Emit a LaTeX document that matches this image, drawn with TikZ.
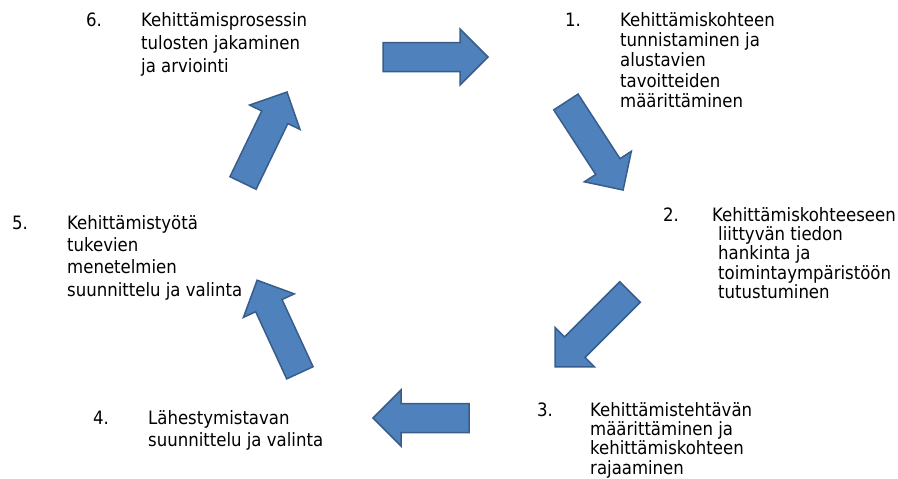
\documentclass[tikz,border=0pt]{standalone}
\usepackage{fontspec}
\setmainfont{DejaVu Sans Condensed}
\usepackage{tikz}
\definecolor{arrblue}{RGB}{79,129,189}
\definecolor{arredge}{RGB}{56,93,138}
\tikzset{
  stepnum/.style={anchor=north west,inner sep=0pt,font=\fontsize{18.4}{20.5}\selectfont},
  steptext/.style={anchor=north west,inner sep=0pt,align=left,font=\fontsize{18.4}{#1}\selectfont},
  steptext/.default=20.3,
  pics/blockarrow/.style={code={
    \draw[fill=arrblue,draw=arredge,line width=1.5pt,line join=miter]
      (-#1/2,-14.5) -- (#1/2-28,-14.5) -- (#1/2-28,-28) -- (#1/2,0)
      -- (#1/2-28,28) -- (#1/2-28,14.5) -- (-#1/2,14.5) -- cycle;
  }},
  pics/blockarrow/.default=104
}
\begin{document}
\begin{tikzpicture}[x=1pt,y=-1pt]
\useasboundingbox (0,0) rectangle (898,479);

\draw (86,12.5) node[stepnum] (n6) {6.};
\draw (141,12) node[steptext=23] (t6) {Kehittämisprosessin\\tulosten jakaminen\\ja arviointi};

\draw (565,12.5) node[stepnum] (n1) {1.};
\draw (620,12) node[steptext] (t1) {Kehittämiskohteen\\tunnistaminen ja\\alustavien\\tavoitteiden\\määrittäminen};

\draw (663,207.5) node[stepnum] (n2) {2.};
\draw (712,207) node[steptext=19.3] (t2) {Kehittämiskohteeseen\\\hspace*{6pt}liittyvän tiedon\\\hspace*{6pt}hankinta ja\\\hspace*{6pt}toimintaympäristöön\\\hspace*{6pt}tutustuminen};

\draw (537,402.5) node[stepnum] (n3) {3.};
\draw (590,402) node[steptext=19.3] (t3) {Kehittämistehtävän\\määrittäminen ja\\kehittämiskohteen\\rajaaminen};

\draw (93,410.5) node[stepnum] (n4) {4.};
\draw (148,410) node[steptext=22] (t4) {Lähestymistavan\\suunnittelu ja valinta};

\draw (12,215.5) node[stepnum] (n5) {5.};
\draw (67,215) node[steptext=22.3] (t5) {Kehittämistyötä\\tukevien\\menetelmien\\suunnittelu ja valinta};

% cycle arrows
\pic[rotate=0] at (435.5,57) {blockarrow=105};
\pic[rotate=-57] at (594.5,146) {blockarrow=105};
\pic[rotate=-135] at (592.5,329.5) {blockarrow=106};
\pic[rotate=180] at (421,418) {blockarrow=96};
\pic[rotate=114.8] at (278.5,326.5) {blockarrow=102};
\pic[rotate=64.2] at (265,137.5) {blockarrow=101};
\end{tikzpicture}
\end{document}
